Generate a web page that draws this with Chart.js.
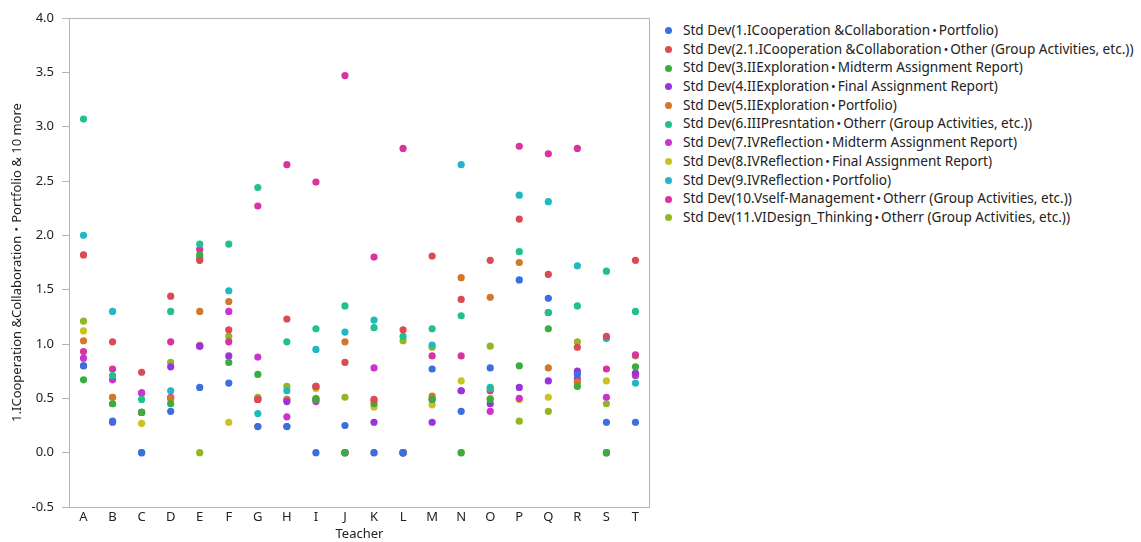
<!DOCTYPE html>
<html>
<head>
<meta charset="utf-8">
<script src="https://cdn.jsdelivr.net/npm/chart.js@4"></script>
<style>
body{margin:0;background:#fff;width:1141px;height:542px;overflow:hidden;font-family:"Noto Sans","Noto Sans CJK JP",sans-serif;}
#wrap{position:absolute;left:0;top:0;width:660px;height:542px;}
#legend{position:absolute;left:662px;top:21px;width:479px;overflow:hidden;white-space:nowrap;font-size:13.6px;color:#222;}
#legend div{height:18.7px;line-height:18.7px;}
#legend span.dot{display:inline-block;width:7px;height:7px;border-radius:50%;margin:0 11px 1px 3px;vertical-align:middle;}
#legend span.md{display:inline-block;margin:0 -2.5px;}
</style>
</head>
<body>
<div id="wrap"><canvas id="grafico"></canvas></div>
<div id="legend"></div>
<script>
// categorias / series
const teachers = ["A","B","C","D","E","F","G","H","I","J","K","L","M","N","O","P","Q","R","S","T"];
const yTicks = [-0.5,0,0.5,1,1.5,2,2.5,3,3.5,4];

const names = [
"Std Dev(1.ICooperation &Collaboration・Portfolio)",
"Std Dev(2.1.ICooperation &Collaboration・Other (Group Activities, etc.))",
"Std Dev(3.IIExploration・Midterm Assignment Report)",
"Std Dev(4.IIExploration・Final Assignment Report)",
"Std Dev(5.IIExploration・Portfolio)",
"Std Dev(6.IIIPresntation・Otherr (Group Activities, etc.))",
"Std Dev(7.IVReflection・Midterm Assignment Report)",
"Std Dev(8.IVReflection・Final Assignment Report)",
"Std Dev(9.IVReflection・Portfolio)",
"Std Dev(10.Vself-Management・Otherr (Group Activities, etc.))",
"Std Dev(11.VIDesign_Thinking・Otherr (Group Activities, etc.))"
];
const cores = ["#3b6ee0","#dc4a54","#3aad3f","#9b33dd","#d2782a","#22bf90","#cc33cc","#cbc11f","#1fb8c3","#d8339e","#93b624"];

const s1  = [0.80,0.29,0.00,0.38,0.60,0.64,0.24,0.24,0.00,0.25,0.00,0.00,0.77,0.38,0.78,1.59,1.42,0.72,0.28,0.28];
const s2  = [1.82,1.02,0.74,1.44,1.77,1.13,0.49,1.23,0.61,0.83,0.49,1.13,1.81,1.41,1.77,2.15,1.64,0.97,1.07,1.77];
const s3  = [0.67,0.45,0.37,0.45,1.82,0.83,0.72,0.24,0.49,0.00,0.45,0.00,0.49,0.00,0.49,0.80,1.14,0.61,0.00,0.79];
const s4  = [0.80,0.28,0.37,0.79,0.98,0.89,0.49,0.47,0.61,0.00,0.28,0.00,0.28,0.57,0.45,0.60,0.66,0.75,0.00,0.73];
const s5  = [1.03,0.51,0.37,0.50,1.30,1.39,0.24,0.49,0.50,1.02,0.48,0.00,0.52,1.61,1.43,1.75,0.78,0.65,0.00,0.73];
const s6  = [3.07,0.71,0.49,1.30,1.92,1.92,2.44,1.02,1.14,1.35,1.15,1.07,1.14,1.26,0.59,1.85,1.29,1.35,1.67,1.30];
const s7  = [0.87,0.67,0.55,0.51,0.98,1.30,0.88,0.33,0.47,0.00,0.78,0.00,0.49,0.57,0.38,0.50,1.29,0.68,0.51,0.71];
const s8  = [1.12,0.51,0.27,0.49,0.99,0.28,0.49,0.49,0.59,0.00,0.42,0.00,0.44,0.66,0.50,0.49,0.51,0.65,0.66,0.71];
const s9  = [2.00,1.30,0.00,0.57,1.79,1.49,0.36,0.57,0.95,1.11,1.22,0.00,0.99,2.65,0.60,2.37,2.31,1.72,1.05,0.64];
const s10 = [0.93,0.77,0.55,1.02,1.87,1.02,2.27,2.65,2.49,3.47,1.80,2.80,0.89,0.89,0.57,2.82,2.75,2.80,0.77,0.90];
const s11 = [1.21,0.45,0.37,0.83,0.00,1.07,0.51,0.61,0.49,0.51,0.00,1.03,0.97,0.00,0.98,0.29,0.38,1.02,0.45,0.89];
const series = [s1,s2,s3,s4,s5,s6,s7,s8,s9,s10,s11];

// legenda html
const leg = document.getElementById("legend");
names.forEach(function(n,i){
  const d = document.createElement("div");
  d.innerHTML = '<span class="dot" style="background:'+cores[i]+'"></span>';
  const partes = n.split("・");
  d.appendChild(document.createTextNode(partes[0]));
  const md = document.createElement("span");
  md.className = "md";
  md.textContent = "・";
  d.appendChild(md);
  d.appendChild(document.createTextNode(partes[1]));
  leg.appendChild(d);
});

// moldura do grafico
const moldura = {
  id:"moldura",
  afterDraw(chart){
    const a = chart.chartArea, ctx = chart.ctx;
    ctx.save();
    ctx.strokeStyle = "#b4b4b4";
    ctx.lineWidth = 1;
    ctx.strokeRect(Math.round(a.left)+0.5, Math.round(a.top)+0.5, Math.round(a.right-a.left)-1, Math.round(a.bottom-a.top));
    ctx.restore();
  }
};

const fonte = {family:'"Noto Sans","Noto Sans CJK JP",sans-serif', size:13};

new Chart(document.getElementById("grafico"),{
type:"line",
data:{
labels:teachers,
datasets:series.map(function(s,i){
  return {label:names[i], data:s, showLine:false, pointRadius:3.6, pointHoverRadius:3.6,
    pointBorderWidth:0, backgroundColor:cores[i], borderColor:cores[i]};
})
},
options:{
responsive:true,
maintainAspectRatio:false,
animation:false,
layout:{padding:{top:18,right:10,left:0,bottom:0}},
plugins:{legend:{display:false},tooltip:{enabled:false}},
scales:{
x:{
  offset:true,
  grid:{display:false,drawTicks:false},
  border:{display:false},
  ticks:{color:"#222",font:fonte,padding:2,maxRotation:0,autoSkip:false},
  title:{display:true,text:"Teacher",color:"#222",font:fonte,padding:{top:0,bottom:0}},
  afterFit(s){ s.height = 35; }
},
y:{
  min:-0.5,max:4,
  afterBuildTicks(s){ s.ticks = yTicks.map(function(v){ return {value:v}; }); },
  grid:{drawOnChartArea:false,drawTicks:true,tickLength:7,color:"#b4b4b4"},
  border:{display:false},
  ticks:{color:"#222",font:fonte,padding:8,callback:function(v){ return Number(v).toFixed(1); }},
  title:{display:true,text:"1.ICooperation &Collaboration・Portfolio & 10 more",color:"#222",font:fonte,padding:{top:9,bottom:0}},
  afterFit(s){ s.width = 69; }
}
}
},
plugins:[moldura]
});
</script>
</body>
</html>
